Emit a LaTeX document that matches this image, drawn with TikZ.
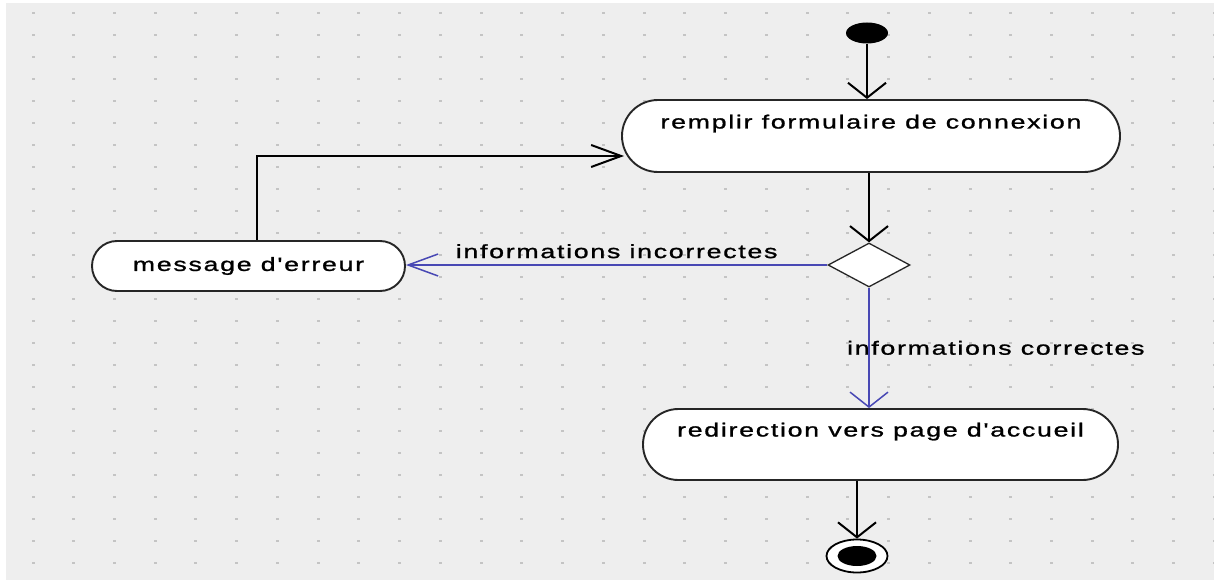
\documentclass[tikz,border=0pt]{standalone}
\usepackage{fontspec}
\setmainfont{Liberation Sans}[FakeStretch=1.4,LetterSpace=9,FakeBold=1.2,Ligatures=TeXOff]
\usetikzlibrary{arrows.meta,shapes.misc,shapes.geometric}
\definecolor{bgc}{HTML}{EEEEEE}
\definecolor{dotc}{HTML}{C4C4C4}
\definecolor{flowblue}{HTML}{4848B4}
\tikzset{
  vtip/.tip={Straight Barb[length=15pt,width=38pt]},
  htip/.tip={Straight Barb[length=30pt,width=22pt]},
}
\begin{document}
\begin{tikzpicture}[x=1pt,y=-1pt,
  font=\fontsize{19.1pt}{23pt}\selectfont,
  act/.style={rounded rectangle, draw=black!85, line width=1.9pt, fill=white, inner sep=0pt},
  initst/.style={ellipse, fill=black, minimum width=42pt, minimum height=21pt, inner sep=0pt},
  finst/.style={ellipse, draw=black, line width=1.8pt, fill=white, minimum width=61pt, minimum height=33pt, inner sep=0pt},
  fininner/.style={ellipse, fill=black, minimum width=39pt, minimum height=20pt, inner sep=0pt},
  decision/.style={diamond, draw=black!85, fill=white, line width=1.3pt, minimum width=82pt, minimum height=44pt, inner sep=0pt, aspect=1.86},
  flow/.style={draw=black, line width=2pt},
  blueflow/.style={draw=flowblue, line width=1.5pt},
]
\useasboundingbox (0,0) rectangle (1214,580);
\fill[bgc] (6,3) rectangle (1214,580);
\foreach \i in {0,...,29}
  \foreach \j in {0,...,25}
    \fill[dotc] ({33+40.74*\i-1.5},{13+22*\j-0.8}) rectangle +(3,1.6);

% nodes
\node[initst] (init) at (867,33) {};
\node[act, minimum width=498pt, minimum height=72pt, text height=14pt, text depth=29pt] (act1) at (871,136) {remplir formulaire de connexion};
\node[decision] (dec) at (869,265) {};
\node[act, minimum width=313pt, minimum height=50pt] (msg) at (248.5,266) {message d'erreur};
\node[act, minimum width=475pt, minimum height=71pt, text height=14pt, text depth=30pt] (act2) at (880.5,444.5) {redirection vers page d'accueil};
\node[finst] (fin) at (857,556) {};
\node[fininner] (finc) at (fin) {};

% connectors
\draw[flow, -vtip] (init) -- (init |- act1.north);
\draw[flow, -vtip] (act1.south -| dec.north) -- (dec.north);
\draw[blueflow, -htip] (dec.west) -- (dec.west -| msg.east)
  node[midway, above, inner sep=6pt, text=black] {informations incorrectes};
\draw[flow, -htip] ([xshift=8.5pt]msg.north) |- ([shift={(3pt,-20pt)}]act1.west);
\draw[blueflow, -vtip] (dec.south) -- (dec.south |- act2.north)
  node[pos=0.5, anchor=west, xshift=-26pt, text=black] {informations correctes};
\draw[flow, -vtip] (fin |- act2.south) -- (fin.north);
\end{tikzpicture}
\end{document}
